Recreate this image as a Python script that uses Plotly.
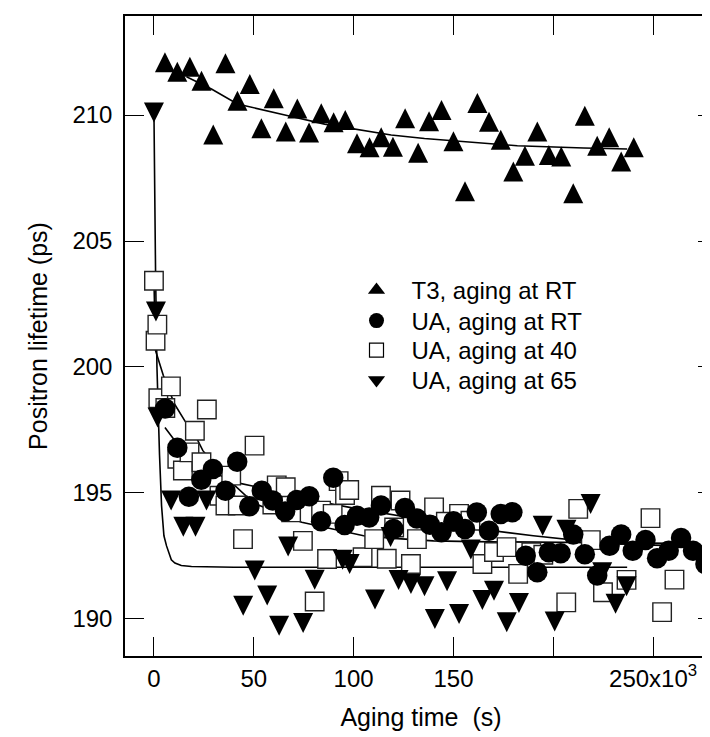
import plotly.graph_objects as go

# ---------------- data (aging time in 10^3 s, lifetime in ps) ----------------
t3_x = [5.5, 11.7, 18, 23.8, 29.7, 35.8, 41.8, 48, 53.8, 60, 66, 71.8, 77.7, 83.8, 90, 95.8,
        101.7, 108, 113.8, 119.7, 125.8, 132.3, 137.8, 144, 150, 155.8, 162, 167.8, 173.7, 180,
        185.8, 192, 197.8, 204, 210, 215.8, 222, 228, 234, 240.3]
t3_y = [212.09, 211.72, 211.92, 211.36, 209.23, 212.05, 210.57, 211.23, 209.48, 210.67, 209.35,
        210.26, 209.31, 210.07, 209.71, 209.8, 208.88, 208.72, 209.12, 208.74, 209.87, 208.5,
        209.75, 210.2, 208.96, 206.97, 210.48, 209.73, 209.02, 207.76, 208.38, 209.35, 208.41,
        208.35, 206.9, 209.97, 208.78, 209.12, 208.16, 208.72]

rt_x = [5.6, 11.7, 17.5, 23.7, 29.5, 35.8, 41.7, 47.8, 54, 59.5, 65.7, 71.5, 77.8, 83.7, 89.8,
        95.5, 101.7, 107.8, 113.7, 120, 125.7, 131.7, 138.2, 144, 150, 155.8, 161.7, 167.8,
        173.7, 179.5, 186.2, 192, 197.8, 203.7, 210, 215.8, 222, 228.2, 234, 239.8, 246.2, 252,
        257.8, 264, 270, 276.2]
rt_y = [198.35, 196.79, 194.85, 195.52, 195.95, 195.09, 196.24, 194.47, 195.09, 194.7, 194.26,
        194.72, 194.87, 193.88, 195.6, 193.73, 194.1, 194.03, 194.5, 193.57, 194.4, 193.99,
        193.74, 193.44, 193.88, 193.57, 194.23, 193.5, 194.17, 194.24, 192.51, 191.85, 192.65,
        192.61, 193.35, 192.57, 191.72, 192.91, 193.35, 192.71, 193.13, 192.41, 192.71, 193.21,
        192.71, 192.18]

a40_x = [0, 0.8, 1.7, 2.2, 5.7, 8.5, 11.7, 14.5, 17.8, 20.5, 23.8, 26.5, 32.8, 35.8, 38.7, 42,
         44.6, 50.4, 59.3, 61.5, 66, 68.7, 74.6, 80.5, 83.7, 86.7, 89.5, 92.5, 95.7, 97.8, 104.5,
         110.3, 113.7, 116.6, 120.3, 123.5, 128.7, 131.7, 140.3, 146.2, 152.8, 158.5, 164.5,
         170.3, 176.6, 182.4, 189, 195, 206.5, 212.5, 218.8, 224.9, 236.7, 248.7, 254.5, 260.7]
a40_y = [203.42, 201.04, 201.68, 198.76, 198.37, 199.23, 196.36, 195.89, 196.61, 197.47, 196.22,
         198.31, 194.89, 194.5, 195.69, 194.5, 193.17, 196.88, 194.54, 195.3, 195.23, 194.23,
         193.1, 190.69, 194.3, 192.38, 194.17, 195.47, 194.92, 195.12, 192.45, 193.17, 194.89,
         192.39, 193.63, 194.7, 192.18, 193.17, 194.43, 193.86, 194.17, 193.9, 192.18, 192.66,
         192.85, 191.79, 192.65, 192.55, 190.66, 194.37, 193.13, 191.06, 191.55, 194.0, 190.27,
         191.56]

a65_x = [0, 1, 1.8, 8.6, 14.7, 20.8, 26.3, 44.7, 50.5, 56.7, 62.7, 67.2, 74.7, 80.5, 94.5, 98,
         110.7, 118.5, 122.5, 128.7, 135.5, 140.7, 146.8, 152.8, 158.7, 164.5, 170.3, 176.7,
         182.8, 194.7, 200.7, 206.6, 218.7, 224.5, 231.2, 236.7]
a65_y = [210.1, 202.2, 198.0, 194.7, 193.66, 193.66, 194.7, 190.52, 191.92, 190.93, 189.73,
         192.88, 189.84, 191.56, 192.35, 192.18, 190.77, 193.25, 191.55, 191.39, 191.3, 190.0,
         191.5, 190.2, 192.76, 190.75, 191.12, 189.87, 190.63, 193.7, 189.9, 193.54, 194.56,
         191.85, 190.6, 191.3]

# fitted curves
fit_t3_x = [16.3, 28.8, 41.8, 55.5, 67.2, 85.5, 102, 118.8, 135.5, 148.7, 182, 215.3, 237]
fit_t3_y = [211.52, 211.03, 210.44, 210.17, 209.97, 209.64, 209.42, 209.21, 209.07, 208.98,
            208.78, 208.69, 208.65]

fit_65_x = [0, 0.3, 0.8, 1.5, 2.1, 2.8, 3.8, 5, 6.3, 8.7, 10.5, 13.7, 18.8, 40, 237]
fit_65_y = [210.1, 206, 203.8, 200, 198.1, 196.5, 194.5, 193.3, 192.9, 192.35, 192.22, 192.12,
            192.08, 192.05, 192.05]

fit_40_x = [0, 0.8, 4.7, 10.3, 15.4, 22, 24.5, 35, 50, 62, 74, 85.5, 97, 105, 120, 140, 160,
            182, 200, 220, 240, 260]
fit_40_y = [203.4, 200.65, 199.66, 198.53, 197.87, 197.08, 196.68, 195.7, 194.6, 194.2, 193.84,
            193.64, 193.44, 193.3, 193.2, 193.1, 193.07, 193.05, 193.04, 193.02, 193.0, 193.0]

fit_rt_x = [5.5, 15, 30, 42, 54, 80, 100, 130, 160, 190, 226, 250, 282]
fit_rt_y = [197.6, 196.6, 195.8, 195.4, 195.2, 194.7, 194.4, 194.0, 193.6, 193.3, 193.0, 192.93,
            192.88]

x_ticks = [0, 50, 100, 150, 250]
x_ticktext = ["0", "50", "100", "150", "250x10<sup>3</sup>"]
x_minor_ticks = [200]
y_ticks = [190, 195, 200, 205, 210]

legend_names = ["T3, aging at RT", "UA, aging at RT", "UA, aging at 40", "UA, aging at 65"]

# ---------------- layout constants ----------------
W, H = 710, 737
ML, MR, MT, MB = 117, 1, 8, 89
XR = [-14.5, 282]
YR = [188.53, 213.93]
FONT = "Liberation Sans, Arial, sans-serif"
TRI = 20  # triangle marker size (px)

plot_w = W - ML - MR
plot_h = H - MT - MB
shift = (TRI / 2) * (YR[1] - YR[0]) / plot_h  # half marker height in data units

fig = go.Figure()

line_style = dict(color="black", width=1.6)
for fx, fy in [(fit_t3_x, fit_t3_y), (fit_65_x, fit_65_y),
               (fit_40_x, fit_40_y), (fit_rt_x, fit_rt_y)]:
    fig.add_trace(go.Scatter(x=fx, y=fy, mode="lines", line=line_style,
                             showlegend=False, hoverinfo="skip"))

# UA 65 (down triangles) drawn first, arrow shape centred through axis y3
fig.add_trace(go.Scatter(x=a65_x, y=a65_y, mode="markers", yaxis="y3", showlegend=False,
                         marker=dict(symbol="arrow-down", size=TRI, color="black",
                                     line=dict(width=0))))
# UA 40 (open squares)
fig.add_trace(go.Scatter(x=a40_x, y=a40_y, mode="markers", showlegend=False,
                         marker=dict(symbol="square", size=18.5, color="white",
                                     line=dict(color="#222222", width=1.4))))
# UA RT (filled circles)
fig.add_trace(go.Scatter(x=rt_x, y=rt_y, mode="markers", showlegend=False,
                         marker=dict(symbol="circle", size=20.5, color="black",
                                     line=dict(width=0))))
# T3 (up triangles), arrow shape centred through axis y2
fig.add_trace(go.Scatter(x=t3_x, y=t3_y, mode="markers", yaxis="y2", showlegend=False,
                         marker=dict(symbol="arrow-up", size=TRI, color="black",
                                     line=dict(width=0))))

# legend entries: one legend per row so that row spacing follows the reference
leg_markers = [dict(symbol="triangle-up", size=15, color="black"),
               dict(symbol="circle", size=15, color="black"),
               dict(symbol="square", size=14, color="white", line=dict(color="black", width=1.2)),
               dict(symbol="triangle-down", size=15, color="black")]
leg_ids = ["legend", "legend2", "legend3", "legend4"]
row_centres = [283, 313.5, 343, 373]  # px from top of the page
leg_layout = {}
for nm, mk, lid, yc in zip(legend_names, leg_markers, leg_ids, row_centres):
    fig.add_trace(go.Scatter(x=[None], y=[None], mode="markers", name=nm, marker=mk,
                             legend=lid, showlegend=True))
    top = yc - 23
    leg_layout[lid] = dict(x=(333.5 - ML) / plot_w, y=(H - MB - top) / plot_h,
                           xanchor="left", yanchor="top", bgcolor="rgba(0,0,0,0)",
                           font=dict(family=FONT, size=24, color="black"), itemwidth=60)

axis_common = dict(showline=True, linecolor="black", linewidth=1.5, mirror="allticks",
                   ticks="inside", ticklen=19, tickwidth=1.4, tickcolor="black",
                   showgrid=False, zeroline=False,
                   tickfont=dict(family=FONT, size=24, color="black"))

fig.update_layout(
    width=W, height=H,
    margin=dict(l=ML, r=MR, t=MT, b=MB, autoexpand=False),
    paper_bgcolor="white", plot_bgcolor="white",
    font=dict(family=FONT, size=24, color="black"),
    xaxis=dict(range=XR, tickmode="array", tickvals=x_ticks, ticktext=x_ticktext,
               minor=dict(tickmode="array", tickvals=x_minor_ticks, ticks="inside",
                          ticklen=19, tickwidth=1.4, tickcolor="black", showgrid=False),
               title=dict(text="Aging time\u00a0 (s)", standoff=18,
                          font=dict(family=FONT, size=25)),
               **axis_common),
    yaxis=dict(range=YR, tickmode="array", tickvals=y_ticks,
               title=dict(text="Positron lifetime (ps)", standoff=18,
                          font=dict(family=FONT, size=25)),
               ticklabelstandoff=6,
               **axis_common),
    yaxis2=dict(range=[YR[0] - shift, YR[1] - shift], overlaying="y", visible=False),
    yaxis3=dict(range=[YR[0] + shift, YR[1] + shift], overlaying="y", visible=False),
    **leg_layout,
)

fig.write_html("out.html")
